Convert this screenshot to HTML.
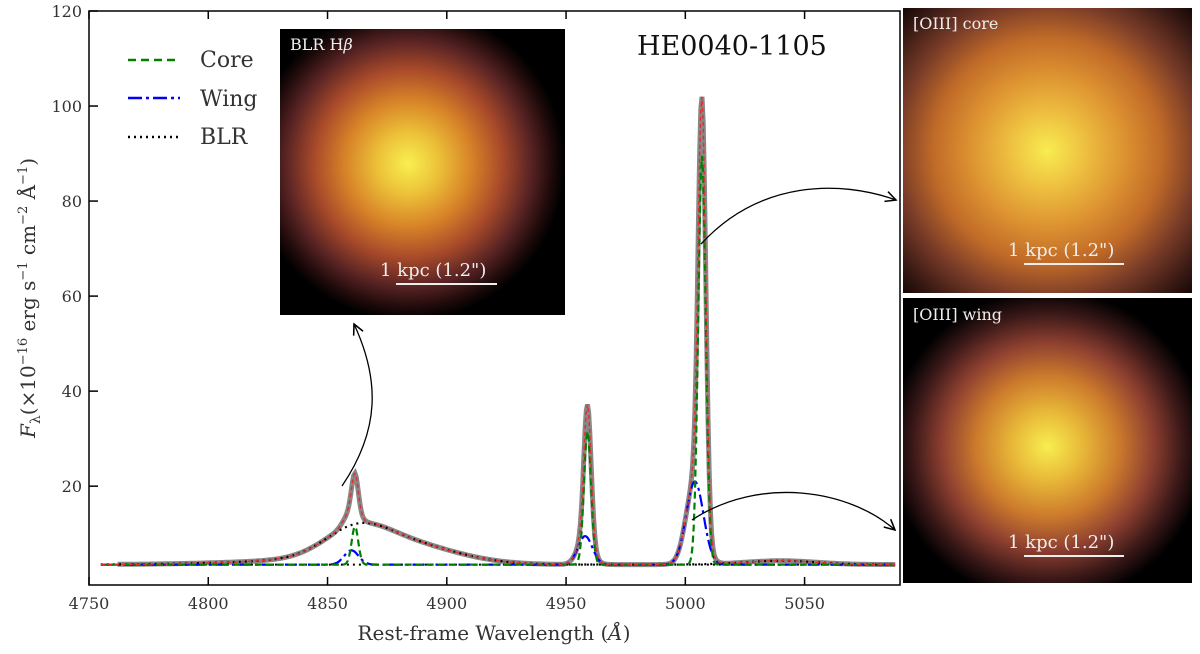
<!DOCTYPE html>
<html><head><meta charset="utf-8"><style>
body{margin:0;background:#fff;width:1200px;height:649px;overflow:hidden}
svg{font-family:"DejaVu Serif","Liberation Serif",serif}
</style></head><body>
<svg width="1200" height="649" viewBox="0 0 1200 649">
<defs>
<radialGradient id="blob1" cx="0.45" cy="0.47" r="0.55">
<stop offset="0" stop-color="#f8f050"/><stop offset="0.2" stop-color="#ecc038"/><stop offset="0.4" stop-color="#d88428"/><stop offset="0.6" stop-color="#a84a2a"/><stop offset="0.78" stop-color="#5a2424"/><stop offset="0.92" stop-color="#1e0a0a"/><stop offset="1" stop-color="#000"/></radialGradient>
<radialGradient id="blob2" cx="0.5" cy="0.5" r="0.72">
<stop offset="0" stop-color="#f8ec50"/><stop offset="0.18" stop-color="#eec040"/><stop offset="0.38" stop-color="#dc9030"/><stop offset="0.55" stop-color="#c06a28"/><stop offset="0.72" stop-color="#7a3c28"/><stop offset="0.88" stop-color="#3a1a14"/><stop offset="1" stop-color="#100404"/></radialGradient>
<radialGradient id="blob3" cx="0.5" cy="0.52" r="0.55">
<stop offset="0" stop-color="#f8ee50"/><stop offset="0.22" stop-color="#e8b838"/><stop offset="0.45" stop-color="#cc7a2c"/><stop offset="0.66" stop-color="#8e4030"/><stop offset="0.85" stop-color="#3a1818"/><stop offset="1" stop-color="#000"/></radialGradient>
<marker id="ah" markerWidth="10" markerHeight="10" refX="9" refY="5" orient="auto"><path d="M1,1 L9,5 L1,9" fill="none" stroke="#000" stroke-width="1.2"/></marker>
</defs>
<g id="plot"></g>
<rect x="89" y="11" width="811" height="574" fill="none" stroke="#000" stroke-width="1.5"/>

<g font-size="22" fill="#333">
<line x1="128" y1="60" x2="180" y2="60" stroke="#008000" stroke-width="2.5" stroke-dasharray="8,5"/>
<text x="200" y="67">Core</text>
<line x1="128" y1="98" x2="180" y2="98" stroke="#0000ff" stroke-width="2.5" stroke-dasharray="14,4,3,4"/>
<text x="200" y="106">Wing</text>
<line x1="128" y1="137" x2="180" y2="137" stroke="#000" stroke-width="2.5" stroke-dasharray="2,4"/>
<text x="200" y="144">BLR</text>
</g>
<text x="637" y="55" font-size="27" fill="#111">HE0040-1105</text>

<g>
<rect x="280" y="29" width="285" height="286" fill="#000"/>
<rect x="280" y="29" width="285" height="286" fill="url(#blob1)"/>
<text x="290" y="50" font-size="16" fill="#eee">BLR H<tspan font-style="italic">β</tspan></text>
<text x="380" y="276" font-size="18" fill="#eee">1 kpc (1.2")</text>
<line x1="396" y1="284" x2="497" y2="284" stroke="#eee" stroke-width="2"/>
</g>
<g>
<rect x="903" y="8" width="289" height="285" fill="url(#blob2)"/>
<text x="913" y="29" font-size="16" fill="#eee">[OIII] core</text>
<text x="1008" y="256" font-size="18" fill="#eee">1 kpc (1.2")</text>
<line x1="1024" y1="264" x2="1124" y2="264" stroke="#eee" stroke-width="2"/>
</g>
<g>
<rect x="903" y="298" width="289" height="285" fill="#000"/>
<rect x="903" y="298" width="289" height="285" fill="url(#blob3)"/>
<text x="913" y="320" font-size="16" fill="#eee">[OIII] wing</text>
<text x="1008" y="548" font-size="18" fill="#eee">1 kpc (1.2")</text>
<line x1="1024" y1="556" x2="1124" y2="556" stroke="#eee" stroke-width="2"/>
</g>
<path d="M342,486 C380,430 380,380 354,324" fill="none" stroke="#000" stroke-width="1.3" marker-end="url(#ah)"/>
<path d="M701,244 C760,180 840,180 896,200" fill="none" stroke="#000" stroke-width="1.3" marker-end="url(#ah)"/>
<path d="M692,520 C760,475 850,490 895,530" fill="none" stroke="#000" stroke-width="1.3" marker-end="url(#ah)"/>

<text x="494" y="640" font-size="20" fill="#333" text-anchor="middle">Rest-frame Wavelength (<tspan font-style="italic">Å</tspan>)</text>
<text transform="translate(35,298) rotate(-90)" font-size="20" fill="#333" text-anchor="middle"><tspan font-style="italic">F</tspan><tspan font-size="14" dy="5">λ</tspan><tspan dy="-5">(×10</tspan><tspan font-size="13" dy="-8">−16</tspan><tspan dy="8"> erg s</tspan><tspan font-size="13" dy="-8">−1</tspan><tspan dy="8"> cm</tspan><tspan font-size="13" dy="-8">−2</tspan><tspan dy="8"> Å</tspan><tspan font-size="13" dy="-8">−1</tspan><tspan dy="8">)</tspan></text>
<g id="axes"></g>
</svg>
<script>
const xTicks=[4750,4800,4850,4900,4950,5000,5050];
const yTicks=[20,40,60,80,100,120];
const continuum=3.5;
// narrow core components: centre, amplitude, sigma
const coreCenters=[4861.5,4959,5007];
const coreAmps=[8,28,86];
const coreSigmas=[1.4,1.5,1.6];
// wing components
const wingCenters=[4860,4958,5004];
const wingAmps=[3,6,17.5];
const wingSigmas=[3,3,3.6];
// broad-line region components
const blrCenters=[4862,4880,4845,5040];
const blrAmps=[4.8,4.3,0.8,0.8];
const blrSigmas=[13,22,35,15];

const X0=89,X1=900,XMIN=4750,XMAX=5090,YT=11,YB=585,YMIN=-0.8,YMAX=120;
const sx=v=>X0+(v-XMIN)/(XMAX-XMIN)*(X1-X0);
const sy=v=>YB-(v-YMIN)/(YMAX-YMIN)*(YB-YT);
const NS="http://www.w3.org/2000/svg";
const plot=document.getElementById('plot'),axes=document.getElementById('axes');
function g(x,c,a,s){let t=0;for(let i=0;i<c.length;i++)t+=a[i]*Math.exp(-0.5*((x-c[i])/s[i])**2);return t;}
function line(fn,stroke,w,dash,name,x0){
  let d='';for(let x=x0||4755;x<=5088;x+=0.5){d+=(d?'L':'M')+sx(x).toFixed(1)+','+sy(fn(x)).toFixed(1);}
  const p=document.createElementNS(NS,'path');p.setAttribute('d',d);p.setAttribute('fill','none');
  p.setAttribute('stroke',stroke);p.setAttribute('stroke-width',w);if(dash)p.setAttribute('stroke-dasharray',dash);
  
  
  plot.appendChild(p);
}
const core=x=>g(x,coreCenters,coreAmps,coreSigmas);
const wing=x=>g(x,wingCenters,wingAmps,wingSigmas);
const blr=x=>g(x,blrCenters,blrAmps,blrSigmas);
const total=x=>continuum+core(x)+wing(x)+blr(x);
line(total,'#888',5,null,'observed-spectrum',4762);
line(x=>continuum,'#000',2,'2,4','continuum-line');
line(x=>continuum+blr(x),'#000',2.2,'2,4','blr-curve');
line(x=>continuum+wing(x),'#0000ff',2.2,'12,4,3,4','wing-curve');
line(x=>continuum+core(x),'#008000',2.2,'7,4','core-curve');
line(total,'#e03030',1.5,'4,3','total-model');
xTicks.forEach(v=>{
  const x=sx(v);
  [[YB,YB-8],[YT,YT+8]].forEach(([a,b])=>{const l=document.createElementNS(NS,'line');l.setAttribute('x1',x);l.setAttribute('x2',x);l.setAttribute('y1',a);l.setAttribute('y2',b);l.setAttribute('stroke','#000');l.setAttribute('stroke-width','1.5');axes.appendChild(l);});
  const t=document.createElementNS(NS,'text');t.setAttribute('x',x);t.setAttribute('y',609);t.setAttribute('text-anchor','middle');t.setAttribute('font-size','16');t.setAttribute('fill','#333');t.textContent=v;
  
  
  axes.appendChild(t);
});
yTicks.forEach(v=>{
  const y=sy(v);
  const l=document.createElementNS(NS,'line');l.setAttribute('x1',X0);l.setAttribute('x2',X0+9);l.setAttribute('y1',y);l.setAttribute('y2',y);l.setAttribute('stroke','#000');l.setAttribute('stroke-width','1.5');axes.appendChild(l);
  const t=document.createElementNS(NS,'text');t.setAttribute('x',82);t.setAttribute('y',y+6);t.setAttribute('text-anchor','end');t.setAttribute('font-size','16');t.setAttribute('fill','#333');t.textContent=v;
  
  
  axes.appendChild(t);
});
</script>
</body></html>
